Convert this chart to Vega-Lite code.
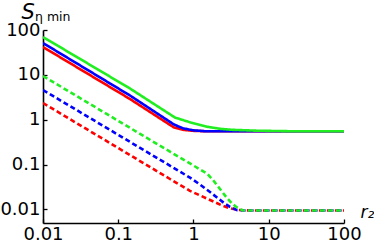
{
  "$schema": "https://vega.github.io/schema/vega-lite/v6.json",
  "width": 301,
  "height": 193,
  "autosize": {"type": "none"},
  "padding": {"left": 43, "top": 30, "right": 30, "bottom": 25},
  "background": "white",
  "config": {
    "view": {"stroke": null},
    "font": "DejaVu Sans",
    "axis": {
      "grid": false,
      "domainColor": "black",
      "domainWidth": 1.6,
      "tickColor": "black",
      "tickWidth": 1.3,
      "tickSize": -4,
      "labelFont": "DejaVu Sans",
      "labelFontSize": 18,
      "labelColor": "black",
      "labelOverlap": false,
      "labelFlush": false,
      "titleColor": "black",
      "titleFontWeight": "normal"
    }
  },
  "title": {
    "text": "η min",
    "anchor": "start",
    "frame": "group",
    "orient": "top",
    "offset": 0,
    "dx": -8,
    "dy": 32,
    "baseline": "alphabetic",
    "font": "DejaVu Sans",
    "fontSize": 12.5,
    "fontWeight": "normal",
    "color": "black"
  },
  "data": {
    "values": [
      {"c": "1red", "d": "dashed", "x": 0.01, "y": 2.36},
      {"c": "1red", "d": "dashed", "x": 0.487, "y": 0.0478},
      {"c": "1red", "d": "dashed", "x": 0.898, "y": 0.026},
      {"c": "1red", "d": "dashed", "x": 1.657, "y": 0.0163},
      {"c": "1red", "d": "dashed", "x": 2.391, "y": 0.0123},
      {"c": "1red", "d": "dashed", "x": 3.055, "y": 0.0106},
      {"c": "1red", "d": "dashed", "x": 3.904, "y": 0.0098},
      {"c": "1red", "d": "dashed", "x": 5.63, "y": 0.0095},
      {"c": "1red", "d": "dashed", "x": 100, "y": 0.0095},
      {"c": "2blue", "d": "dashed", "x": 0.01, "y": 4.6},
      {"c": "2blue", "d": "dashed", "x": 0.898, "y": 0.0513},
      {"c": "2blue", "d": "dashed", "x": 1.22, "y": 0.036},
      {"c": "2blue", "d": "dashed", "x": 1.657, "y": 0.0245},
      {"c": "2blue", "d": "dashed", "x": 2.053, "y": 0.0185},
      {"c": "2blue", "d": "dashed", "x": 2.543, "y": 0.014},
      {"c": "2blue", "d": "dashed", "x": 3.055, "y": 0.0114},
      {"c": "2blue", "d": "dashed", "x": 3.784, "y": 0.0097},
      {"c": "2blue", "d": "dashed", "x": 4.836, "y": 0.0095},
      {"c": "2blue", "d": "dashed", "x": 100, "y": 0.0095},
      {"c": "3green", "d": "dashed", "x": 0.01, "y": 9.44},
      {"c": "3green", "d": "dashed", "x": 0.487, "y": 0.194},
      {"c": "3green", "d": "dashed", "x": 1.512, "y": 0.0633},
      {"c": "3green", "d": "dashed", "x": 1.816, "y": 0.0454},
      {"c": "3green", "d": "dashed", "x": 2.25, "y": 0.0286},
      {"c": "3green", "d": "dashed", "x": 2.787, "y": 0.018},
      {"c": "3green", "d": "dashed", "x": 3.25, "y": 0.0136},
      {"c": "3green", "d": "dashed", "x": 3.784, "y": 0.0111},
      {"c": "3green", "d": "dashed", "x": 4.548, "y": 0.0095},
      {"c": "3green", "d": "dashed", "x": 100, "y": 0.0095},
      {"c": "1red", "d": "solid", "x": 0.01, "y": 41.8},
      {"c": "1red", "d": "solid", "x": 0.1431, "y": 2.9},
      {"c": "1red", "d": "solid", "x": 0.5506, "y": 0.672},
      {"c": "1red", "d": "solid", "x": 0.7251, "y": 0.597},
      {"c": "1red", "d": "solid", "x": 0.985, "y": 0.567},
      {"c": "1red", "d": "solid", "x": 1.42, "y": 0.555},
      {"c": "1red", "d": "solid", "x": 100, "y": 0.555},
      {"c": "2blue", "d": "solid", "x": 0.01, "y": 51.3},
      {"c": "2blue", "d": "solid", "x": 0.1431, "y": 3.47},
      {"c": "2blue", "d": "solid", "x": 0.5506, "y": 0.783},
      {"c": "2blue", "d": "solid", "x": 0.7251, "y": 0.645},
      {"c": "2blue", "d": "solid", "x": 0.985, "y": 0.582},
      {"c": "2blue", "d": "solid", "x": 1.42, "y": 0.555},
      {"c": "2blue", "d": "solid", "x": 100, "y": 0.555},
      {"c": "3green", "d": "solid", "x": 0.01, "y": 69.8},
      {"c": "3green", "d": "solid", "x": 0.1431, "y": 4.97},
      {"c": "3green", "d": "solid", "x": 0.5677, "y": 1.12},
      {"c": "3green", "d": "solid", "x": 0.8985, "y": 0.877},
      {"c": "3green", "d": "solid", "x": 1.512, "y": 0.7},
      {"c": "3green", "d": "solid", "x": 2.25, "y": 0.628},
      {"c": "3green", "d": "solid", "x": 3.25, "y": 0.597},
      {"c": "3green", "d": "solid", "x": 6.98, "y": 0.57},
      {"c": "3green", "d": "solid", "x": 19.2, "y": 0.555},
      {"c": "3green", "d": "solid", "x": 100, "y": 0.555}
    ]
  },
  "mark": {"type": "line", "strokeWidth": 2.6, "strokeJoin": "round", "clip": true},
  "encoding": {
    "x": {
      "field": "x",
      "type": "quantitative",
      "scale": {"type": "log", "domain": [0.01, 100], "nice": false},
      "axis": {
        "values": [0.01, 0.1, 1, 10, 100],
        "format": "~g",
        "labelPadding": 6,
        "title": "r₂",
        "titleFont": "DejaVu Sans",
        "titleFontSize": 17,
        "titleFontStyle": "italic",
        "titleAngle": 0,
        "titleAlign": "left",
        "titleBaseline": "alphabetic",
        "titleX": 317,
        "titleY": -6
      }
    },
    "y": {
      "field": "y",
      "type": "quantitative",
      "scale": {"type": "log", "domain": [0.005, 100], "nice": false},
      "axis": {
        "values": [0.01, 0.1, 1, 10, 100],
        "format": "~g",
        "labelPadding": 7,
        "title": "S",
        "titleFont": "DejaVu Sans",
        "titleFontSize": 21,
        "titleFontStyle": "italic",
        "titleAngle": 0,
        "titleAlign": "left",
        "titleBaseline": "alphabetic",
        "titleX": -22,
        "titleY": -12
      }
    },
    "color": {
      "field": "c",
      "type": "nominal",
      "scale": {"domain": ["1red", "2blue", "3green"], "range": ["#ff0000", "#0000ff", "#20ee20"]},
      "legend": null
    },
    "strokeDash": {
      "field": "d",
      "type": "nominal",
      "scale": {"domain": ["solid", "dashed"], "range": [[1, 0], [5, 3]]},
      "legend": null
    }
  }
}
